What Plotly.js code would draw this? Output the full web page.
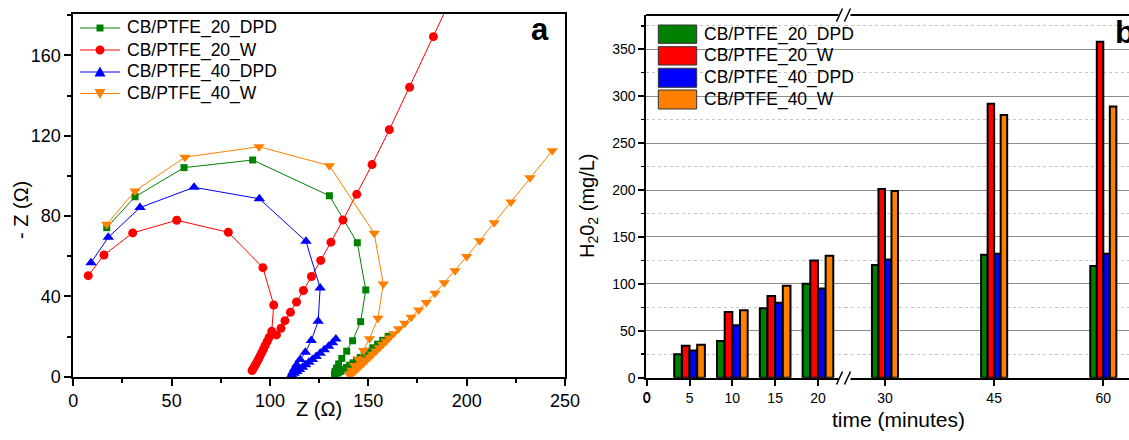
<!DOCTYPE html>
<html><head><meta charset="utf-8">
<script src="https://cdn.plot.ly/plotly-3.0.1.min.js"></script>
<style>html,body{margin:0;padding:0;overflow:hidden;background:#fff}#chart{width:1129px;height:440px}</style>
</head><body><div id="chart"></div>
<script>
// ---------- Panel a : Nyquist data (Z', -Z'') ----------
const seriesNames = ["CB/PTFE_20_DPD", "CB/PTFE_20_W", "CB/PTFE_40_DPD", "CB/PTFE_40_W"];
const colors = ["#008000", "#ff0000", "#0000ff", "#ff8000"];

const z20DPD_x = [17.0,31.4,56.3,91.2,130.2,144.4,148.7,146.1,142.0,139.0,136.5,134.9,133.8,133.1,132.8,
  133.6,134.7,136.0,137.4,138.9,140.5,142.2,144.0,145.9,147.9,150.0,152.3,154.7,157.3,160.1];
const z20DPD_y = [74.2,89.6,104.1,107.9,90.1,66.7,43.2,27.4,17.9,12.7,9.1,6.4,4.3,2.7,1.5,
  1.2,1.9,2.7,3.6,4.6,5.7,6.9,8.2,9.6,11.1,12.7,14.4,16.2,18.1,20.1];

const z20W_x = [196.5,183.1,171.0,160.7,151.9,144.1,137.1,131.0,125.8,121.1,117.0,113.5,110.4,107.6,105.6,103.3,
  99.6,98.6,97.6,96.7,95.8,95.0,94.2,93.4,92.7,92.0,91.4,90.9,
  100.9,101.9,96.4,78.8,52.6,30.2,15.6,7.6];
const z20W_y = [197.5,169.3,144.1,123.0,105.6,90.8,78.0,67.0,57.9,49.9,42.9,37.2,32.1,27.9,24.1,20.8,
  19.6,17.6,15.6,13.8,12.0,10.4,8.8,7.4,6.1,4.9,3.9,3.1,
  22.6,35.7,54.3,71.9,77.9,71.6,60.6,50.3];

const z40DPD_x = [9.0,17.8,33.9,61.4,94.6,118.3,125.5,124.5,121.0,118.0,115.3,113.6,112.4,111.6,111.1,
  112.3,113.6,115.0,116.5,118.1,119.8,121.6,123.5,125.5,127.6,129.8,131.8,133.5];
const z40DPD_y = [56.8,69.4,84.2,94.3,88.6,67.4,44.2,27.6,18.0,12.2,8.6,5.9,3.8,2.2,1.0,
  1.7,2.6,3.6,4.7,5.9,7.2,8.6,10.1,11.7,13.4,15.2,16.9,18.8];

const z40W_x = [17.0,31.4,56.8,94.4,130.2,153.0,157.6,154.9,150.6,147.6,145.0,143.0,141.6,140.8,140.5,
  141.8,143.2,144.6,146.0,147.5,149.0,150.6,152.2,153.9,155.6,157.3,159.0,160.6,162.8,165.4,168.5,171.8,
  175.6,179.5,183.9,188.6,194.1,200.0,206.6,214.0,222.5,232.2,243.5];
const z40W_y = [75.9,92.5,109.3,114.5,105.1,71.4,46.2,29.1,18.9,13.1,8.8,5.6,3.2,1.6,0.8,
  1.6,2.8,4.1,5.4,6.8,8.2,9.7,11.2,12.8,14.4,16.0,17.6,19.3,21.4,23.9,26.6,29.6,
  33.2,37.0,41.5,46.8,52.8,59.8,67.7,76.7,87.0,99.1,112.5];

// ---------- Panel b : H2O2 bars ----------
const timeMin = [5, 10, 15, 20, 30, 45, 60];
const h2o2_20DPD = [25, 39, 74, 100, 120, 131, 119];
const h2o2_20W   = [34, 70, 87, 125, 201, 292, 358];
const h2o2_40DPD = [29, 56, 80, 95, 126, 132, 132];
const h2o2_40W   = [35, 72, 98, 130, 199, 280, 289];

// ---------- helpers (pixel -> paper) ----------
const W = 1129, H = 440;
const px = p => p / W;
const py = p => 1 - p / H;
const FONT = "Arial, 'Liberation Sans', sans-serif";

const traces = [];
const nyqX = [z20DPD_x, z20W_x, z40DPD_x, z40W_x];
const nyqY = [z20DPD_y, z20W_y, z40DPD_y, z40W_y];
const symbols = ["square", "circle", "triangle-up", "triangle-down"];
const msizes = [7, 9, 10, 10];
for (let i = 0; i < 4; i++) {
  traces.push({
    type: "scatter", mode: "lines+markers", name: seriesNames[i],
    x: nyqX[i], y: nyqY[i], xaxis: "x", yaxis: "y",
    line: {color: colors[i], width: 1},
    marker: {symbol: symbols[i], size: msizes[i], color: colors[i], line: {width: 0}},
    cliponaxis: i === 1, showlegend: false
  });
}

const barVals = [h2o2_20DPD, h2o2_20W, h2o2_40DPD, h2o2_40W];
const bw = 0.895;
const offs = [-2 * bw, -bw, 0, bw];
for (let i = 0; i < 4; i++) {
  traces.push({type: "bar", x: timeMin.slice(0, 4), y: barVals[i].slice(0, 4), xaxis: "x2", yaxis: "y2",
    width: bw, offset: offs[i], name: seriesNames[i], showlegend: false,
    marker: {color: colors[i], line: {color: "#000", width: 2}}});
  traces.push({type: "bar", x: timeMin.slice(4), y: barVals[i].slice(4), xaxis: "x3", yaxis: "y2",
    width: bw, offset: offs[i], name: seriesNames[i], showlegend: false,
    marker: {color: colors[i], line: {color: "#000", width: 2}}});
}

// ---------- shapes & annotations ----------
const shapes = [];
const ann = [];

// left legend
const legRowsA = [28, 50, 72, 93.5];
for (let i = 0; i < 4; i++) {
  const yc = legRowsA[i];
  shapes.push({type: "line", xref: "paper", yref: "paper", x0: px(80), x1: px(120), y0: py(yc), y1: py(yc),
    line: {color: colors[i], width: 1}});
  const cx = 100;
  if (i === 0) shapes.push({type: "rect", xref: "paper", yref: "paper", x0: px(cx - 3.5), x1: px(cx + 3.5),
    y0: py(yc + 3.5), y1: py(yc - 3.5), fillcolor: colors[i], line: {width: 0}});
  if (i === 1) shapes.push({type: "circle", xref: "paper", yref: "paper", x0: px(cx - 4.5), x1: px(cx + 4.5),
    y0: py(yc + 4.5), y1: py(yc - 4.5), fillcolor: colors[i], line: {width: 0}});
  if (i === 2) shapes.push({type: "path", xref: "paper", yref: "paper",
    path: `M${px(cx - 5.5)},${py(yc + 4.5)} L${px(cx + 5.5)},${py(yc + 4.5)} L${px(cx)},${py(yc - 5.5)} Z`,
    fillcolor: colors[i], line: {width: 0}});
  if (i === 3) shapes.push({type: "path", xref: "paper", yref: "paper",
    path: `M${px(cx - 5.5)},${py(yc - 4.5)} L${px(cx + 5.5)},${py(yc - 4.5)} L${px(cx)},${py(yc + 5.5)} Z`,
    fillcolor: colors[i], line: {width: 0}});
  ann.push({xref: "paper", yref: "paper", x: px(125), y: py(yc), xanchor: "left", yanchor: "middle",
    text: seriesNames[i], showarrow: false, font: {family: FONT, size: 17.5, color: "#000"}});
}

// right legend
const legRowsB = [[25, 43.3], [46.7, 65], [68.3, 87.3], [90, 109]];
for (let i = 0; i < 4; i++) {
  const r = legRowsB[i];
  shapes.push({type: "rect", xref: "paper", yref: "paper", x0: px(658.3), x1: px(696.7), y0: py(r[1]), y1: py(r[0]),
    fillcolor: colors[i], line: {color: "#333", width: 1}, layer: "above"});
  ann.push({xref: "paper", yref: "paper", x: px(702), y: py((r[0] + r[1]) / 2), xanchor: "left", yanchor: "middle",
    text: seriesNames[i], showarrow: false, font: {family: FONT, size: 17.5, color: "#000"}});
}

// right panel top border
shapes.push({type: "line", xref: "paper", yref: "paper", x0: px(646), x1: px(1129), y0: py(15), y1: py(15),
  line: {color: "#000", width: 2}, layer: "above"});
// axis break marks
for (const yb of [15, 378]) {
  shapes.push({type: "rect", xref: "paper", yref: "paper", x0: px(838.5), x1: px(850.5), y0: py(yb + 2), y1: py(yb - 2),
    fillcolor: "#fff", line: {width: 0}, layer: "above"});
  shapes.push({type: "line", xref: "paper", yref: "paper", x0: px(836.5), y0: py(yb + 6.5), x1: px(842.5), y1: py(yb - 6.5),
    line: {color: "#000", width: 1.5}, layer: "above"});
  shapes.push({type: "line", xref: "paper", yref: "paper", x0: px(844.5), y0: py(yb + 6.5), x1: px(850.5), y1: py(yb - 6.5),
    line: {color: "#000", width: 1.5}, layer: "above"});
}

// titles / labels
ann.push({xref: "paper", yref: "paper", x: px(319), y: py(409), text: "Z (Ω)", showarrow: false,
  xanchor: "center", yanchor: "middle", font: {family: FONT, size: 20, color: "#000"}});
ann.push({xref: "paper", yref: "paper", x: px(21), y: py(210), text: "- Z (Ω)", showarrow: false, textangle: -90,
  xanchor: "center", yanchor: "middle", font: {family: FONT, size: 20, color: "#000"}});
ann.push({xref: "paper", yref: "paper", x: px(588), y: py(206), text: "H<sub>2</sub>0<sub>2</sub> (mg/L)", showarrow: false,
  textangle: -90, xanchor: "center", yanchor: "middle", font: {family: FONT, size: 20, color: "#000"}});
ann.push({xref: "paper", yref: "paper", x: px(898), y: py(419), text: "time (minutes)", showarrow: false,
  xanchor: "center", yanchor: "middle", font: {family: FONT, size: 21, color: "#000"}});
ann.push({xref: "paper", yref: "paper", x: px(540), y: py(30), text: "<b>a</b>", showarrow: false,
  xanchor: "center", yanchor: "middle", font: {family: FONT, size: 31, color: "#000"}});
ann.push({xref: "paper", yref: "paper", x: px(1113), y: py(32), text: "<b>b</b>", showarrow: false,
  xanchor: "left", yanchor: "middle", font: {family: FONT, size: 32, color: "#000"}});
ann.push({xref: "paper", yref: "paper", x: px(647), y: py(397), text: "0", showarrow: false,
  xanchor: "center", yanchor: "middle", font: {family: FONT, size: 14, color: "#000"}});

const axBase = {showline: true, linecolor: "#000", linewidth: 2, ticks: "outside", tickcolor: "#000",
  tickwidth: 2, zeroline: false, showgrid: false, fixedrange: true};

const layout = {
  width: W, height: H, margin: {l: 0, r: 0, t: 0, b: 0},
  paper_bgcolor: "#fff", plot_bgcolor: "rgba(0,0,0,0)", showlegend: false,
  font: {family: FONT, color: "#000"},
  barmode: "overlay",
  xaxis: Object.assign({}, axBase, {domain: [px(73.3), px(565)], range: [0, 250], anchor: "y", mirror: true,
    tickvals: [0, 50, 100, 150, 200, 250], ticklen: 7, tickfont: {size: 18},
    minor: {tickvals: [25, 75, 125, 175, 225], ticks: "outside", ticklen: 4, tickwidth: 2, tickcolor: "#000"}}),
  yaxis: Object.assign({}, axBase, {domain: [py(376.7), py(14)], range: [0, 180.6], anchor: "x", mirror: true,
    tickvals: [0, 40, 80, 120, 160], ticklen: 7, tickfont: {size: 18},
    minor: {tickvals: [20, 60, 100, 140, 180], ticks: "outside", ticklen: 4, tickwidth: 2, tickcolor: "#000"}}),
  xaxis2: Object.assign({}, axBase, {domain: [px(646.3), px(844.5)], range: [-0.05, 23.1], anchor: "y2",
    tickvals: [0, 5, 10, 15, 20], ticklen: 6, tickfont: {size: 14}}),
  xaxis3: Object.assign({}, axBase, {domain: [px(844.5), 1], range: [24.44, 63.53], anchor: "y2",
    tickvals: [30, 45, 60], ticklen: 6, tickfont: {size: 14}}),
  yaxis2: Object.assign({}, axBase, {domain: [py(377.7), py(15)], range: [0, 386.5], anchor: "x2",
    tickvals: [0, 50, 100, 150, 200, 250, 300, 350], ticklen: 6, tickfont: {size: 14},
    showgrid: true, gridcolor: "#8c8c8c", gridwidth: 1,
    minor: {tickvals: [25, 75, 125, 175, 225, 275, 325, 375], ticks: "outside", ticklen: 3, tickwidth: 1.5,
      tickcolor: "#000", showgrid: true, gridcolor: "#c4c4c4", griddash: "3px,3px", gridwidth: 1}}),
  shapes: shapes, annotations: ann
};

Plotly.newPlot("chart", traces, layout, {displayModeBar: false, staticPlot: true});
</script></body></html>
